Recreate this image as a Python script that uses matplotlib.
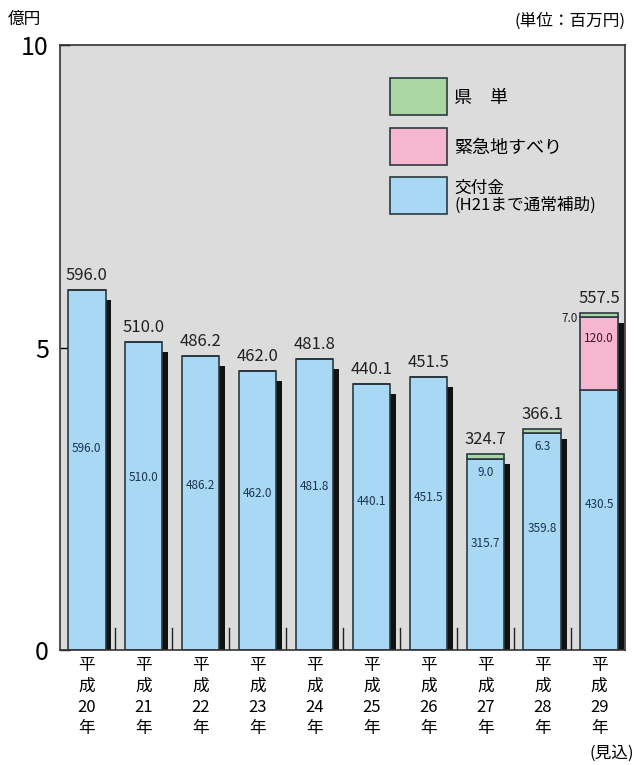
import matplotlib
matplotlib.use("Agg")
import matplotlib.pyplot as plt
from matplotlib.patches import Rectangle

plt.rcParams['font.family'] = ['Noto Sans CJK JP', 'DejaVu Sans']

years = ["平\n成\n20\n年", "平\n成\n21\n年", "平\n成\n22\n年", "平\n成\n23\n年", "平\n成\n24\n年",
         "平\n成\n25\n年", "平\n成\n26\n年", "平\n成\n27\n年", "平\n成\n28\n年", "平\n成\n29\n年"]
koufu = [596.0, 510.0, 486.2, 462.0, 481.8, 440.1, 451.5, 315.7, 359.8, 430.5]
kinkyu = [0, 0, 0, 0, 0, 0, 0, 0, 0, 120.0]
kentan = [0, 0, 0, 0, 0, 0, 0, 9.0, 6.3, 7.0]
totals = [596.0, 510.0, 486.2, 462.0, 481.8, 440.1, 451.5, 324.7, 366.1, 557.5]

c_blue = "#a9d8f5"
c_pink = "#f6b6d0"
c_green = "#a9d6a3"
edge = "#2a3a40"

fig = plt.figure(figsize=(6.35, 7.65), dpi=100)
ax = fig.add_axes([0.0945, 0.150, 0.8895, 0.791])
ax.set_facecolor("#dcdcdc")

w = 0.66
x = list(range(len(years)))
k = [v / 100 for v in koufu]
p = [v / 100 for v in kinkyu]
g = [v / 100 for v in kentan]
t = [v / 100 for v in totals]

# shadow
shadow_w = 0.1
ax.bar([i + w / 2 + shadow_w / 2 for i in x], [v - 0.17 for v in t], width=shadow_w,
       color="#111111", zorder=1)
ax.bar(x, k, width=w, color=c_blue, edgecolor=edge, linewidth=1.2, zorder=2)
ax.bar(x, p, width=w, bottom=k, color=c_pink, edgecolor=edge, linewidth=1.2, zorder=2)
ax.bar(x, g, width=w, bottom=[a + b for a, b in zip(k, p)], color=c_green,
       edgecolor=edge, linewidth=1.2, zorder=2)

# separators
for i in x[:-1]:
    ax.plot([i + 0.5, i + 0.5], [0, 0.36], color="#222222", lw=1.0, zorder=3)

for i in x:
    ax.text(i, t[i] + 0.1, f"{totals[i]:.1f}", ha="center", va="bottom",
            fontsize=12, color="#222222", zorder=4)
    ax.text(i, k[i] * 0.56, f"{koufu[i]:.1f}", ha="center", va="center",
            fontsize=8.5, color="#1c3550", zorder=4)
    if kinkyu[i] > 0:
        ax.text(i, k[i] + p[i] / 2 + 0.25, f"{kinkyu[i]:.1f}", ha="center", va="center",
                fontsize=8.5, color="#3a1a2a", zorder=4)
ax.text(7, k[7] - 0.12, f"{kentan[7]:.1f}", ha="center", va="top", fontsize=8.5,
        color="#1c3550", zorder=4)
ax.text(8, k[8] - 0.12, f"{kentan[8]:.1f}", ha="center", va="top", fontsize=8.5,
        color="#1c3550", zorder=4)
ax.text(9 - w / 2 - 0.04, k[9] + p[9] + g[9] / 2 - 0.05, f"{kentan[9]:.1f}",
        ha="right", va="center", fontsize=8.5, color="#222222", zorder=4)

ax.set_xlim(-0.47, 9.45)
ax.set_ylim(0, 10)
ax.set_yticks([0, 5, 10])
ax.set_yticklabels(["0", "5", "10"], fontsize=18)
ax.tick_params(axis="y", direction="in", length=7, width=1, pad=8)
ax.set_xticks(x)
ax.set_xticklabels(years, fontsize=12, linespacing=1.3)
ax.tick_params(axis="x", length=0, pad=5)
for s in ax.spines.values():
    s.set_color("#333333")
    s.set_linewidth(1.2)

fig.text(0.012, 0.975, "億円", fontsize=12, ha="left", va="center")
fig.text(0.985, 0.972, "(単位：百万円)", fontsize=12, ha="right", va="center")
fig.text(0.998, 0.004, "(見込)", fontsize=12, ha="right", va="bottom")

# legend
legend = [(c_green, "県　単", 0.884), (c_pink, "緊急地すべり", 0.802),
          (c_blue, "交付金\n(H21まで通常補助)", 0.721)]
for col, lab, y0 in legend:
    ax.add_patch(Rectangle((0.584, y0), 0.101, 0.061, transform=ax.transAxes,
                           facecolor=col, edgecolor=edge, linewidth=1.2, zorder=5))
    ax.text(0.698, y0 + 0.028, lab, transform=ax.transAxes, ha="left", va="center",
            fontsize=13 if "\n" not in lab else 12, linespacing=0.95, zorder=5)

fig.savefig("out.png", dpi=100)
